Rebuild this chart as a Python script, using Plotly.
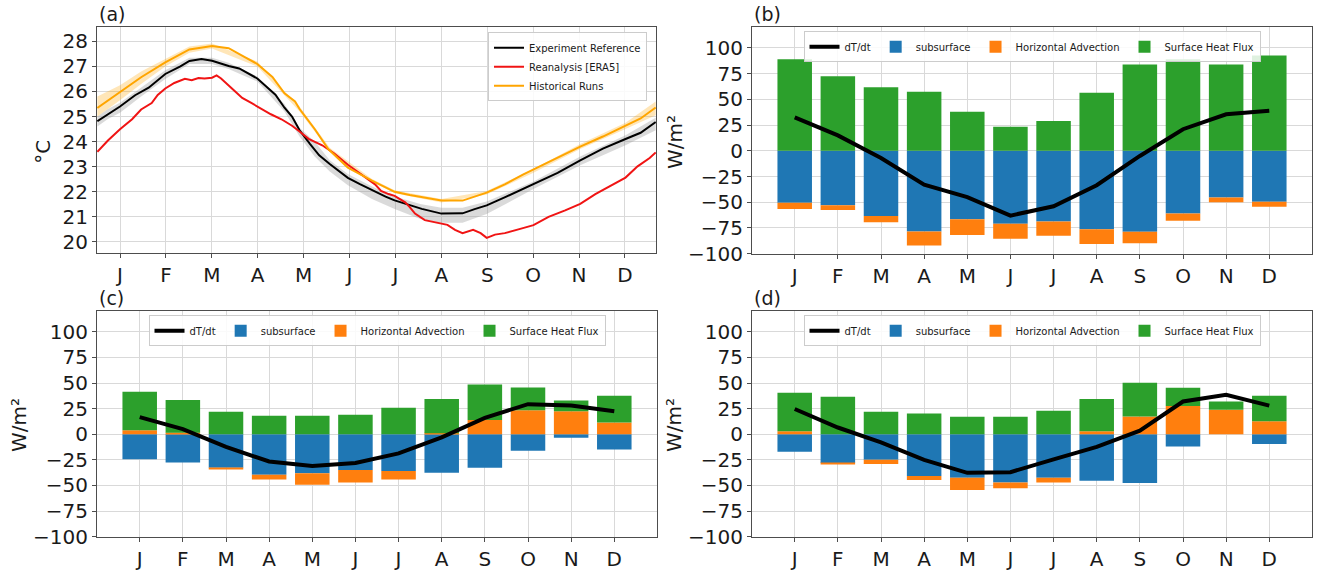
import plotly.graph_objects as go

W, H = 1317, 579
FONT = "DejaVu Sans"
FRAME = "#4d4d4d"
GRID = "#d9d9d9"
TXT = "#1a1a1a"

months = ["J", "F", "M", "A", "M", "J", "J", "A", "S", "O", "N", "D"]
month_mid_day = [15 + 30.42 * k for k in range(12)]

# ---------------- (a) SST seasonal cycle (day of year, degC) ----------------
ref_day = [0, 7, 15, 25, 34, 45, 55, 61, 69, 76, 87, 94, 106, 118, 124, 129, 134, 141,
           147, 154, 166, 174, 182, 191, 197, 207, 215, 228, 242, 250, 258, 271, 280,
           289, 305, 320, 335, 350, 360, 370]
ref_sst = [24.81, 25.10, 25.40, 25.85, 26.15, 26.70, 27.00, 27.22, 27.30, 27.23, 27.02,
           26.92, 26.52, 25.87, 25.35, 25.00, 24.45, 23.90, 23.45, 23.10, 22.55, 22.30,
           22.05, 21.80, 21.65, 21.47, 21.31, 21.12, 21.13, 21.30, 21.45, 21.80, 22.05,
           22.30, 22.75, 23.25, 23.72, 24.10, 24.35, 24.78]

band_day = [0, 7, 15, 29, 45, 61, 76, 87, 106, 124, 134, 144, 154, 166, 182, 197, 214,
            228, 242, 258, 270, 289, 320, 350, 370]
ref_lo = [24.60, 24.90, 25.15, 25.80, 26.50, 27.10, 27.10, 26.90, 26.40, 25.20, 24.20,
          23.40, 22.80, 22.25, 21.70, 21.30, 20.90, 20.75, 20.75, 21.10, 21.50, 22.10,
          23.05, 23.85, 24.45]
ref_hi = [25.00, 25.30, 25.55, 26.15, 26.85, 27.35, 27.35, 27.15, 26.60, 25.50, 24.55,
          24.00, 23.25, 22.70, 22.20, 21.80, 21.50, 21.35, 21.35, 21.60, 21.90, 22.40,
          23.40, 24.25, 24.95]

era5_day = [0, 7, 15, 23, 29, 36, 40, 45, 51, 58, 62.5, 67, 71, 76, 79, 82, 89, 96, 102,
            109, 115, 122, 129, 134, 140, 149, 157, 166, 175, 184, 188, 193, 197, 204,
            207, 210.5, 217, 228, 232, 237, 242, 249, 254, 258, 263.5, 270, 277, 282,
            289, 299, 310, 320, 330, 338, 350, 358, 366, 370]
era5_sst = [23.59, 24.04, 24.49, 24.89, 25.28, 25.54, 25.86, 26.12, 26.34, 26.51, 26.45,
            26.54, 26.52, 26.55, 26.64, 26.52, 26.13, 25.74, 25.54, 25.28, 25.09, 24.89,
            24.63, 24.40, 24.11, 23.85, 23.52, 23.07, 22.68, 22.29, 22.03, 21.90, 21.83,
            21.57, 21.38, 21.12, 20.86, 20.73, 20.67, 20.47, 20.34, 20.47, 20.34, 20.15,
            20.28, 20.34, 20.47, 20.54, 20.66, 20.99, 21.25, 21.51, 21.90, 22.16, 22.56,
            23.01, 23.34, 23.56]

hist_day = [0, 15, 29, 45, 61, 76, 87, 98, 106, 116, 124, 131, 134, 144, 153, 166, 182,
            197, 207, 228, 242, 258, 270, 282, 305, 320, 335, 350, 360, 370]
hist_sst = [25.34, 25.99, 26.57, 27.16, 27.68, 27.82, 27.73, 27.36, 27.10, 26.58, 25.93,
            25.60, 25.30, 24.50, 23.70, 22.96, 22.44, 21.99, 21.86, 21.64, 21.64, 21.96,
            22.29, 22.68, 23.35, 23.80, 24.20, 24.62, 24.92, 25.36]

hist_band_day = [0, 15, 29, 45, 61, 76, 106, 124, 134, 154, 182, 197, 228, 258, 289, 320,
                 350, 370]
hist_lo = [25.00, 25.65, 26.30, 27.00, 27.55, 27.72, 27.00, 25.85, 25.20, 23.60, 22.38,
           21.93, 21.56, 21.88, 22.75, 23.70, 24.50, 25.05]
hist_hi = [25.80, 26.25, 26.80, 27.30, 27.80, 27.92, 27.20, 26.00, 25.40, 23.75, 22.50,
           22.05, 21.70, 22.02, 22.90, 23.90, 24.75, 25.60]

# ---------------- (b)-(d) mixed-layer heat budget terms (W/m2) ----------------
subsurface_b = [-50.5, -53.0, -63.5, -78.5, -66.5, -71.0, -68.7, -76.4, -78.6, -61.0, -45.4, -49.5]
advection_b = [-6.0, -4.5, -6.0, -13.5, -15.3, -14.6, -14.0, -14.3, -11.2, -7.0, -4.6, -5.0]
surface_b = [89.0, 72.5, 61.7, 57.5, 38.0, 23.3, 29.0, 56.5, 84.0, 89.0, 84.0, 92.7]
dtdt_b = [32.5, 15.0, -7.0, -33.0, -45.0, -63.0, -54.0, -33.5, -5.0, 21.0, 35.5, 39.0]

subsurface_c = [-24.4, -27.5, -32.6, -39.5, -38.0, -35.0, -36.0, -37.7, -32.6, -16.0, -3.5, -15.0]
advection_c = [4.0, 1.5, -1.4, -4.8, -11.4, -12.0, -8.3, 1.0, 14.0, 23.4, 22.5, 11.4]
surface_c = [37.5, 32.0, 22.0, 18.0, 18.0, 19.0, 26.0, 33.5, 34.7, 22.2, 10.5, 26.3]
dtdt_c = [16.8, 5.0, -12.3, -26.6, -31.0, -28.0, -18.7, -3.0, 16.0, 29.4, 28.0, 22.5]

subsurface_d = [-17.0, -28.0, -25.0, -40.8, -42.4, -47.0, -42.4, -45.3, -47.5, -12.0, 0.0, -9.5]
advection_d = [3.0, -1.0, -4.0, -3.8, -12.0, -5.8, -4.6, 3.0, 17.4, 27.5, 24.0, 12.6]
surface_d = [37.5, 36.7, 22.0, 20.3, 17.0, 17.0, 23.0, 31.5, 32.9, 17.9, 8.0, 25.1]
dtdt_d = [24.7, 6.6, -8.0, -25.0, -37.7, -37.0, -24.5, -12.3, 3.5, 32.0, 38.5, 28.0]

C_BLUE, C_ORANGE, C_GREEN = "#1f77b4", "#ff7f0e", "#2ca02c"

fig = go.Figure()

# ---- panel (a): spread bands then mean curves
fig.add_trace(go.Scatter(x=band_day + band_day[::-1], y=ref_hi + ref_lo[::-1],
                         fill="toself", fillcolor="rgba(150,150,150,0.35)",
                         line=dict(width=0), showlegend=False, hoverinfo="skip",
                         xaxis="x", yaxis="y"))
fig.add_trace(go.Scatter(x=hist_band_day + hist_band_day[::-1], y=hist_hi + hist_lo[::-1],
                         fill="toself", fillcolor="rgba(255,165,0,0.28)",
                         line=dict(width=0), showlegend=False, hoverinfo="skip",
                         xaxis="x", yaxis="y"))
fig.add_trace(go.Scatter(x=ref_day, y=ref_sst, mode="lines", name="Experiment Reference",
                         line=dict(color="black", width=2), legend="legend",
                         xaxis="x", yaxis="y"))
fig.add_trace(go.Scatter(x=era5_day, y=era5_sst, mode="lines", name="Reanalysis [ERA5]",
                         line=dict(color="#f01414", width=2), legend="legend",
                         xaxis="x", yaxis="y"))
fig.add_trace(go.Scatter(x=hist_day, y=hist_sst, mode="lines", name="Historical Runs",
                         line=dict(color="#ffa500", width=2), legend="legend",
                         xaxis="x", yaxis="y"))

# ---- panels (b)-(d): stacked budget bars + tendency line
budgets = [
    ("x2", "y2", "legend2", subsurface_b, advection_b, surface_b, dtdt_b),
    ("x3", "y3", "legend3", subsurface_c, advection_c, surface_c, dtdt_c),
    ("x4", "y4", "legend4", subsurface_d, advection_d, surface_d, dtdt_d),
]
mx = list(range(12))
for xa, ya, lg, sub, adv, srf, dtdt in budgets:
    for name, vals, col, rank in [("subsurface", sub, C_BLUE, 2),
                                  ("Horizontal Advection", adv, C_ORANGE, 3),
                                  ("Surface Heat Flux", srf, C_GREEN, 4)]:
        fig.add_trace(go.Bar(x=mx, y=vals, name=name, marker=dict(color=col, line=dict(width=0)),
                             width=0.8, legend=lg, legendrank=rank, xaxis=xa, yaxis=ya))
    fig.add_trace(go.Scatter(x=mx, y=dtdt, mode="lines", name="dT/dt",
                             line=dict(color="black", width=4), legend=lg, legendrank=1,
                             xaxis=xa, yaxis=ya))


def dx(l, r):
    return [l / W, r / W]


def dy(t, b):
    return [1 - b / H, 1 - t / H]


base_axis = dict(showline=True, mirror=True, linecolor=FRAME, linewidth=1,
                 showgrid=True, gridcolor=GRID, gridwidth=1, zeroline=False,
                 ticks="outside", ticklen=4, tickcolor=FRAME,
                 tickfont=dict(family=FONT, size=20, color=TXT))

layout = dict(
    width=W, height=H, margin=dict(l=0, r=0, t=0, b=0),
    paper_bgcolor="white", plot_bgcolor="white",
    barmode="relative", bargap=0.2,
    font=dict(family=FONT, color=TXT),
    showlegend=True,
)

# panel (a)
layout["xaxis"] = dict(base_axis, domain=dx(97, 656), range=[-0.24, 370.2],
                       tickvals=month_mid_day, ticktext=months, anchor="y")
layout["yaxis"] = dict(base_axis, domain=dy(28, 258.5), range=[19.54, 28.56],
                       tickvals=list(range(20, 29)), anchor="x")

bar_y = dict(base_axis, range=[-100, 120], tickvals=list(range(-100, 101, 25)))
bar_x = dict(base_axis, range=[-0.99, 11.99], tickvals=mx, ticktext=months)
panels = {"2": (752, 1312, 28, 259), "3": (97, 657, 318, 548), "4": (752, 1312, 318, 548)}
for k, (l, r, t, b) in panels.items():
    layout["xaxis" + k] = dict(bar_x, domain=dx(l, r), anchor="y" + k)
    layout["yaxis" + k] = dict(bar_y, domain=dy(t, b), anchor="x" + k)

legend_common = dict(font=dict(family=FONT, size=10, color=TXT),
                     bgcolor="rgba(255,255,255,0.85)", bordercolor="#cccccc",
                     borderwidth=1, itemwidth=30, tracegroupgap=0)
layout["legend"] = dict(legend_common, x=647 / W, xanchor="right", y=1 - 33 / H,
                        yanchor="top", orientation="v")
for k, (l, r, t, b) in panels.items():
    layout["legend" + k] = dict(legend_common, orientation="h",
                                x=(l + r) / 2 / W, xanchor="center",
                                y=1 - (t + 4) / H, yanchor="top", traceorder="normal")

fig.update_layout(**layout)

# panel letters and axis titles
for label, l, t in [("(a)", 97, 28), ("(b)", 752, 28), ("(c)", 97, 318), ("(d)", 752, 318)]:
    fig.add_annotation(text=label, x=l / W, y=1 - t / H, xref="paper", yref="paper",
                       xanchor="left", yanchor="bottom", showarrow=False,
                       font=dict(family=FONT, size=19, color=TXT))

for text, cx, cy in [("°C", 43, 155), ("W/m²", 675, 145), ("W/m²", 19, 434), ("W/m²", 674, 434)]:
    fig.add_annotation(text=text, x=cx / W, y=1 - cy / H, xref="paper", yref="paper",
                       xanchor="center", yanchor="middle", textangle=-90, showarrow=False,
                       font=dict(family=FONT, size=20, color=TXT))

fig.write_html("out.html")
